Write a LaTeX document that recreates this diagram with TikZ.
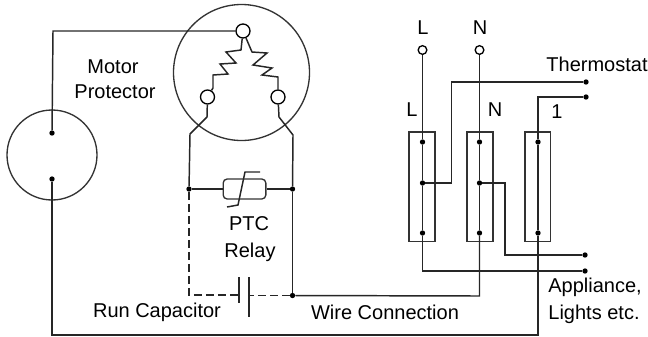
\documentclass[tikz,border=0pt]{standalone}
\usepackage{fontspec}
\setmainfont{Liberation Sans}
\tikzset{
  wire/.style={line width=1.1pt,black!85},
  dashwire/.style={wire,dash pattern=on 6pt off 3pt},
  thinbox/.style={line width=1pt,black!80},
  label/.style={inner sep=0.75pt,font=\fontsize{15}{17}\selectfont},
  term/.style={circle,draw,line width=1pt,inner sep=0pt,minimum size=10.5pt},
  smallterm/.style={circle,draw,line width=1pt,inner sep=0pt,minimum size=6.5pt},
  dotn/.style={circle,fill,inner sep=0pt,minimum size=4pt},
}
\begin{document}
\begin{tikzpicture}[x=0.75pt,y=0.75pt,yscale=-1,xscale=1]
\useasboundingbox (0,0) rectangle (648,336);

% Motor circles
\node [circle,draw,thinbox,minimum size=67.5pt,inner sep=0pt] (fan) at (52,155) {};
\node [circle,draw,thinbox,minimum size=102pt,inner sep=0pt] (motor) at (241.5,72.5) {};
\node [dotn] (fantop) at (52,133) {};
\node [dotn] (fanbot) at (52,179) {};
\node [term] (common) at (243,31) {};
\node [term] (start) at (207.5,97) {};
\node [term] (run) at (278,97) {};

%Windings
\draw [wire] (common) -- (241,50) -- (226,52) -- (236,63) -- (220,64) -- (228,74) -- (213,75) -- (213,88) -- (start);
\draw [wire] (common) -- (252,52) -- (267,53) -- (253,65) -- (272,68) -- (262,75) -- (278,77) -- (run);

% Junction dots
\node [dotn] (ptcleft) at (189,189) {};
\node [dotn] (ptcright) at (292.5,189) {};
\node [dotn] (capright) at (292.5,295.5) {};
\coordinate (capleft) at (189,295);

%PTC relay
\node [draw,thinbox,rounded corners=3pt,minimum width=32pt,minimum height=15pt,inner sep=0pt] (ptc) at (244.5,189) {};
\coordinate (ptctop) at (260,172);
\coordinate (ptcbot) at (227,207);
\draw [wire] (ptctop) -- (245,172) -- (238,205) -- (ptcbot);
\draw [wire] (ptcleft) -- (ptc);
\draw [wire] (ptc) -- (ptcright);

%Motor leads
\draw [wire] (start) -- (207,117) -- (190,134) -- (ptcleft);
\draw [wire] (run) -- (279,117) -- (293,135) -- (ptcright);
\draw [wire] (ptcright) -- (capright);

%Run capacitor
\coordinate (plateatop) at (239,277);
\coordinate (plateabot) at (239,303);
\coordinate (platebtop) at (249,277);
\coordinate (platebbot) at (249,317);
\draw [wire] (plateatop) -- (plateabot);
\draw [wire] (platebtop) -- (platebbot);
\draw [dashwire] (ptcleft) -- (capleft) -- (capleft -| plateatop);
\draw [dashwire] (capright) -- (capright -| platebtop);

% Terminal blocks
\node [draw,thinbox,minimum width=19.5pt,minimum height=82pt,inner sep=0pt] (blockl) at (422,186.5) {};
\node [draw,thinbox,minimum width=19.5pt,minimum height=82pt,inner sep=0pt] (blockn) at (480,186.5) {};
\node [draw,thinbox,minimum width=19pt,minimum height=82pt,inner sep=0pt] (blocke) at (537.5,186.5) {};

\node [smallterm] (supl) at (422.5,50) {};
\node [smallterm] (supn) at (479.5,50) {};
\node [dotn] (ltop) at (422.5,142) {};
\node [dotn] (lmid) at (422.5,183) {};
\node [dotn] (lbot) at (422.5,233) {};
\node [dotn] (ntop) at (479.5,142) {};
\node [dotn] (nmid) at (479.5,183) {};
\node [dotn] (nbot) at (479.5,233) {};
\node [dotn] (etop) at (538,142) {};
\node [dotn] (ebot) at (538,233) {};
\node [dotn] (thermoa) at (586,82) {};
\node [dotn] (thermob) at (586,97) {};
\node [dotn] (appa) at (585,255) {};
\node [dotn] (appb) at (585,271) {};

%Straight Lines
\draw [wire] (supl) -- (ltop) -- (lmid) -- (lbot);
\draw [wire] (supn) -- (ntop) -- (nmid) -- (nbot);
\draw [wire] (etop) -- (ebot);
\draw [wire] (lmid) -- (451.5,183) -- (451.5,82) -- (thermoa);
\draw [wire] (etop) -- (538,97) -- (thermob);
\draw [wire] (nmid) -- (505,183) -- (505,255) -- (appa);
\draw [wire] (lbot) -- (422.5,271) -- (appb);
\draw [wire] (nbot) -- (479.5,296) -- (capright);
\draw [wire] (ebot) -- (538,335) -- (52,335) -- (fanbot);
\draw [wire] (fantop) -- (53,31) -- (common);

% Text Node
\node [label] (motorlabel) at (113,67) {Motor};
% Text Node
\node [label] (protlabel) at (115,92) {Protector};
% Text Node
\node [label] (ptclabel) at (249,224) {PTC};
% Text Node
\node [label] (relaylabel) at (250,252) {Relay};
% Text Node
\node [label] (runlabel) at (157,312) {Run Capacitor};
% Text Node
\node [label] (wirelabel) at (385,312) {Wire Connection};
% Text Node
\node [label] (suplabel) at (423,28) {L};
% Text Node
\node [label] (sunlabel) at (480,28) {N};
% Text Node
\node [label] (blabel) at (412,110) {L};
% Text Node
\node [label] (bnlabel) at (495,110) {N};
% Text Node
\node [label] (belabel) at (557,112) {1};
% Text Node
\node [label] (thermolabel) at (597,64) {Thermostat};
% Text Node
\node [label] (applabel) at (595,287) {Appliance,};
% Text Node
\node [label] (lightlabel) at (594,314) {Lights etc.};

\end{tikzpicture}
\end{document}
